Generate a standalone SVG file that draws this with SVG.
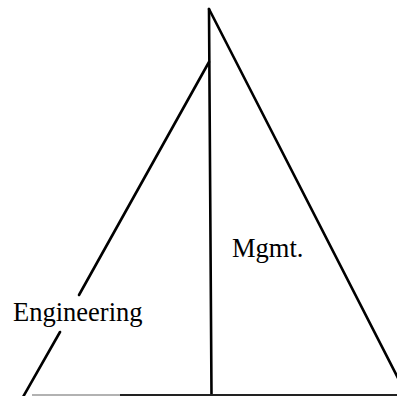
<svg xmlns="http://www.w3.org/2000/svg" width="397" height="396" viewBox="0 0 397 396">
<style>
.ln{stroke:#000;stroke-width:2.6;fill:none;stroke-linecap:round}
.lbl{font-family:"Liberation Serif","Times New Roman",serif;font-size:26.5px;fill:#000}
</style>
<rect width="397" height="396" fill="#fff"/>
<g id="connectors">
<line class="ln" x1="209" y1="9" x2="211.5" y2="396"/>
<line class="ln" x1="209" y1="9" x2="400" y2="382"/>
<line class="ln" x1="209" y1="62" x2="79" y2="295"/>
<line class="ln" x1="60" y1="332" x2="23" y2="397"/>
<line x1="32" y1="395" x2="120" y2="395" stroke="#999" stroke-width="1.5"/>
<line x1="120" y1="395" x2="397" y2="395" stroke="#222" stroke-width="2"/>
</g>
<g id="mgmt"><text class="lbl" x="232" y="257">Mgmt.</text></g>
<g id="engineering"><text class="lbl" x="13" y="321">Engineering</text></g>
</svg>
